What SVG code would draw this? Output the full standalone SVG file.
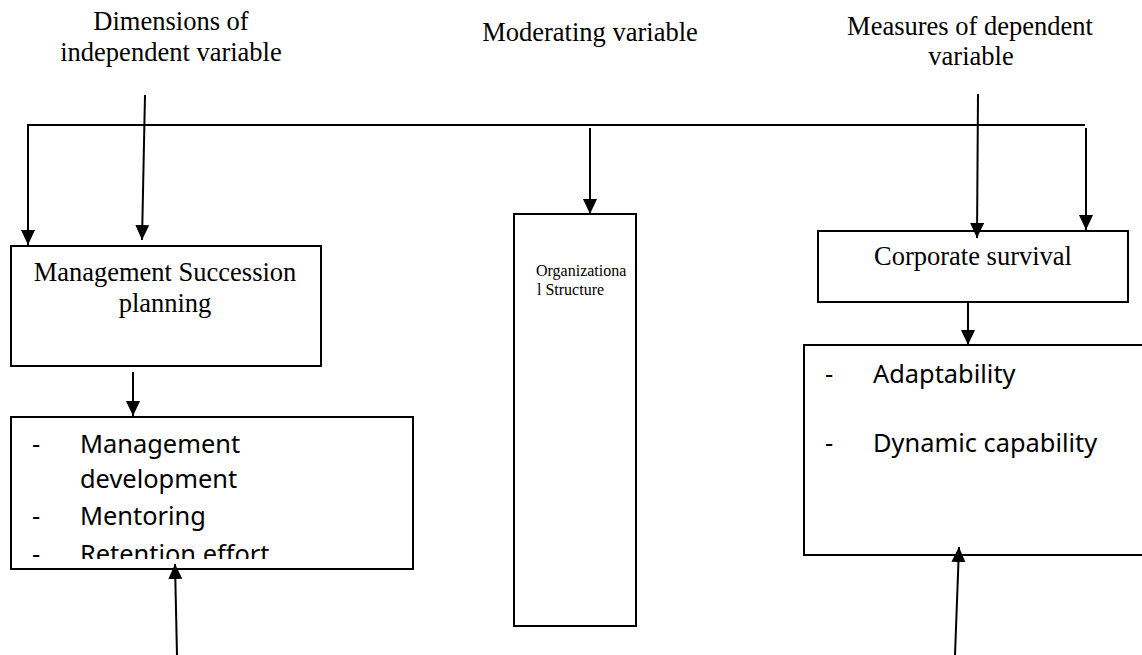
<svg xmlns="http://www.w3.org/2000/svg" width="1142" height="655" viewBox="0 0 1142 655">
<style>
.box{fill:#fff;stroke:#000;stroke-width:2}
.ser{font-family:"Liberation Serif","Times New Roman",serif;font-size:26.5px;fill:#000}
.san{font-family:"Noto Sans","Open Sans","Liberation Sans",sans-serif;font-size:25.4px;fill:#000}
.con{fill:none;stroke:#000;stroke-width:2}
</style>
<defs>
<marker id="ah" markerUnits="userSpaceOnUse" markerWidth="16" markerHeight="15" refX="15" refY="7" orient="auto">
<path d="M0,0 L15,7 L0,14 Z" fill="#000"/>
</marker>
<clipPath id="clipL"><rect x="11" y="417" width="402" height="142"/></clipPath>
</defs>
<g id="labels">
<text class="ser" x="171" y="30" text-anchor="middle">Dimensions of</text>
<text class="ser" x="171" y="61" text-anchor="middle">independent variable</text>
<text class="ser" x="590" y="41" text-anchor="middle">Moderating variable</text>
<text class="ser" x="970" y="35" text-anchor="middle">Measures of dependent</text>
<text class="ser" x="971" y="65" text-anchor="middle">variable</text>
</g>
<g id="node-msp">
<rect class="box" x="11" y="246" width="310" height="120"/>
<text class="ser" x="165" y="281" text-anchor="middle">Management Succession</text>
<text class="ser" x="165" y="312" text-anchor="middle">planning</text>
</g>
<g id="node-msp-list">
<rect class="box" x="11" y="417" width="402" height="152"/>
<g clip-path="url(#clipL)">
<text class="san" x="32" y="453">-</text>
<text class="san" x="80" y="453">Management</text>
<text class="san" x="80" y="488">development</text>
<text class="san" x="32" y="525">-</text>
<text class="san" x="80" y="525">Mentoring</text>
<text class="san" x="32" y="563">-</text>
<text class="san" x="80" y="563">Retention effort</text>
</g>
</g>
<g id="node-org">
<rect class="box" x="514" y="214" width="122" height="412"/>
<text class="ser" x="536" y="276" style="font-size:16px">Organizationa</text>
<text class="ser" x="537" y="295" style="font-size:16px">l Structure</text>
</g>
<g id="node-cs">
<rect class="box" x="818" y="231" width="310" height="71"/>
<text class="ser" x="973" y="265" text-anchor="middle">Corporate survival</text>
</g>
<g id="node-cs-list">
<rect class="box" x="804" y="345" width="350" height="210"/>
<text class="san" x="825" y="383">-</text>
<text class="san" x="873" y="383">Adaptability</text>
<text class="san" x="825" y="452">-</text>
<text class="san" x="873" y="452">Dynamic capability</text>
</g>
<g id="connectors">
<path class="con" d="M27,125 H1085"/>
<path class="con" d="M28,125 V245" marker-end="url(#ah)"/>
<path class="con" d="M145,95 L142,240" marker-end="url(#ah)"/>
<path class="con" d="M590,128 V214" marker-end="url(#ah)"/>
<path class="con" d="M978,94 L977,238" marker-end="url(#ah)"/>
<path class="con" d="M1086,128 V230" marker-end="url(#ah)"/>
<path class="con" d="M133,372 V416" marker-end="url(#ah)"/>
<path class="con" d="M968,303 V345" marker-end="url(#ah)"/>
<path class="con" d="M177,655 L175,564" marker-end="url(#ah)"/>
<path class="con" d="M955,655 L959,547" marker-end="url(#ah)"/>
</g>
</svg>
